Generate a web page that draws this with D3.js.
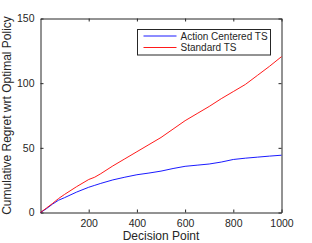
<!DOCTYPE html>
<html>
<head>
<meta charset="utf-8">
<script src="https://cdn.jsdelivr.net/npm/d3@7"></script>
<style>
  body { margin: 0; background: #fff; }
  text { font-family: "Liberation Sans", Arial, Helvetica, sans-serif; fill: #262626; }
</style>
</head>
<body>
<div id="plot"></div>
<script>
var steps = [0, 25, 50, 75, 100, 150, 200, 225, 250, 300, 350, 400, 450, 500,
             550, 600, 650, 700, 750, 800, 850, 900, 950, 1000];
var actionCentered = [0, 3, 6.5, 9.5, 11.5, 15.8, 19.5, 21, 22.5, 25.2, 27.3, 29.2, 30.5, 32,
                      34, 35.7, 36.6, 37.5, 39, 41, 42, 42.8, 43.6, 44.3];
var standardTS = [0, 3.5, 7, 10.8, 14, 20, 25.5, 27.3, 30, 36, 41.5, 47, 52.5, 58,
                  64.5, 71, 76.5, 82, 88, 93.5, 99, 106, 113, 120.5];
var seriesNames = ["Action Centered TS", "Standard TS"];
var xTicks = [200, 400, 600, 800, 1000];
var yTicks = [0, 50, 100, 150];

var margin = {top: 18.5, right: 30.5, bottom: 30.5, left: 40.5},
    width = 312 - margin.left - margin.right,
    height = 243 - margin.top - margin.bottom;

var svg = d3.select("#plot")
    .append("svg")
    .attr("width", 312)
    .attr("height", 243)
    .append("g")
    .attr("transform", "translate(" + margin.left + "," + margin.top + ")");

var x = d3.scaleLinear().domain([0, 1000]).range([0, width]);
var y = d3.scaleLinear().domain([0, 150]).range([height, 0]);

// matlab style box with inward ticks on all sides
function styleAxis(g) {
    g.select(".domain").attr("stroke", "#262626");
    g.selectAll(".tick line").attr("stroke", "#262626");
    g.selectAll(".tick text").style("font-size", "10.5px").attr("fill", "#262626");
}
svg.append("g")
    .attr("transform", "translate(0," + height + ")")
    .call(d3.axisBottom(x).tickValues(xTicks).tickFormat(d3.format("d"))
        .tickSizeInner(-3).tickSizeOuter(0).tickPadding(7))
    .call(styleAxis);
svg.append("g")
    .call(d3.axisLeft(y).tickValues(yTicks).tickSizeInner(-3).tickSizeOuter(0).tickPadding(6))
    .call(styleAxis);
svg.append("g")
    .call(d3.axisTop(x).tickValues(xTicks).tickSizeInner(-3).tickSizeOuter(0).tickFormat(""))
    .call(styleAxis);
svg.append("g")
    .attr("transform", "translate(" + width + ",0)")
    .call(d3.axisRight(y).tickValues(yTicks).tickSizeInner(-3).tickSizeOuter(0).tickFormat(""))
    .call(styleAxis);

// lines
var colors = ["#0000ff", "#ff0000"];
[actionCentered, standardTS].forEach(function(vals, i) {
    svg.append("path")
        .datum(steps.map(function(s, j) { return [s, vals[j]]; }))
        .attr("fill", "none")
        .attr("stroke", colors[i])
        .attr("stroke-width", 0.9)
        .attr("d", d3.line()
            .x(function(d) { return x(d[0]); })
            .y(function(d) { return y(d[1]); }));
});

// axis labels
svg.append("text")
    .attr("x", width / 2)
    .attr("y", height + 27.5)
    .attr("text-anchor", "middle")
    .style("font-size", "12px")
    .text("Decision Point");
svg.append("text")
    .attr("transform", "rotate(-90)")
    .attr("x", -height / 2)
    .attr("y", -29.5)
    .attr("text-anchor", "middle")
    .style("font-size", "12px")
    .text("Cumulative Regret wrt Optimal Policy");

// legend
var legend = svg.append("g").attr("transform", "translate(97,11)");
legend.append("rect")
    .attr("width", 133)
    .attr("height", 25.5)
    .attr("fill", "#fff")
    .attr("stroke", "#262626")
    .attr("stroke-width", 1);
seriesNames.forEach(function(name, i) {
    var ly = 6.5 + i * 11.5;
    legend.append("line")
        .attr("x1", 6).attr("x2", 39)
        .attr("y1", ly).attr("y2", ly)
        .attr("stroke", colors[i])
        .attr("stroke-width", 0.9);
    legend.append("text")
        .attr("x", 43)
        .attr("y", ly + 3.5)
        .style("font-size", "10px")
        .text(name);
});
</script>
</body>
</html>
